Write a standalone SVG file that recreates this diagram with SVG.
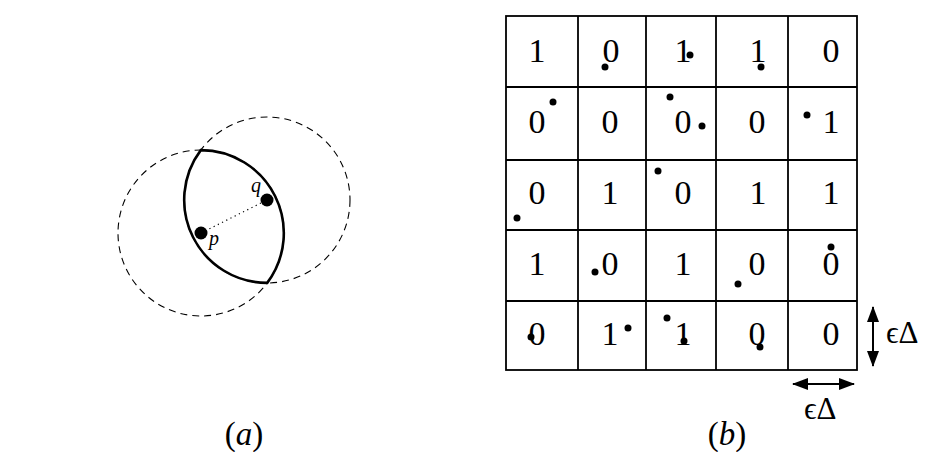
<svg xmlns="http://www.w3.org/2000/svg" width="951" height="452" viewBox="0 0 951 452">
<style>
.t{font-family:"Liberation Serif","DejaVu Serif",serif;fill:#000}
.d{font-size:34px;text-anchor:middle}
.g{stroke:#000;stroke-width:1.8;fill:none}
.dash{stroke:#000;stroke-width:1.1;fill:none;stroke-dasharray:7 5}
</style>
<defs>
<marker id="ah" markerUnits="userSpaceOnUse" markerWidth="16" markerHeight="12" refX="15" refY="6" orient="auto-start-reverse">
<path d="M0,0 L16,6 L0,12 Z" fill="#000"/>
</marker>
</defs>
<rect width="951" height="452" fill="#fff"/>
<g id="fig-a">
<circle class="dash" cx="201" cy="233" r="83"/>
<circle class="dash" cx="267" cy="200" r="83"/>
<path d="M200.8,150.1 A83,83 0 0 1 267.2,282.9 A83,83 0 0 1 200.8,150.1 Z" fill="#fff" stroke="#000" stroke-width="2.6"/>
<line x1="201" y1="233" x2="267" y2="200" stroke="#000" stroke-width="1.2" stroke-dasharray="1.2 3.5"/>
<circle cx="201" cy="233" r="6.5" fill="#000"/>
<circle cx="267" cy="200" r="6.5" fill="#000"/>
<text class="t" x="209" y="245" font-size="20" font-style="italic">p</text>
<text class="t" x="251" y="192" font-size="20" font-style="italic">q</text>
<text class="t" x="244" y="445" font-size="33" text-anchor="middle">(<tspan font-style="italic">a</tspan>)</text>
</g>
<g id="grid">
<rect class="g" x="506" y="16" width="351" height="354"/>
<line class="g" x1="578" y1="16" x2="578" y2="370"/>
<line class="g" x1="646" y1="16" x2="646" y2="370"/>
<line class="g" x1="716" y1="16" x2="716" y2="370"/>
<line class="g" x1="788" y1="16" x2="788" y2="370"/>
<line class="g" x1="506" y1="87" x2="857" y2="87"/>
<line class="g" x1="506" y1="160" x2="857" y2="160"/>
<line class="g" x1="506" y1="230" x2="857" y2="230"/>
<line class="g" x1="506" y1="301" x2="857" y2="301"/>
</g>
<g id="values">
<text class="t d" x="537" y="62">1</text>
<text class="t d" x="611" y="62">0</text>
<text class="t d" x="683" y="62">1</text>
<text class="t d" x="758" y="62">1</text>
<text class="t d" x="831" y="62">0</text>
<text class="t d" x="537" y="133">0</text>
<text class="t d" x="610" y="133">0</text>
<text class="t d" x="683" y="133">0</text>
<text class="t d" x="757" y="133">0</text>
<text class="t d" x="831" y="133">1</text>
<text class="t d" x="537" y="204">0</text>
<text class="t d" x="610" y="204">1</text>
<text class="t d" x="683" y="204">0</text>
<text class="t d" x="758" y="204">1</text>
<text class="t d" x="831" y="204">1</text>
<text class="t d" x="537" y="275">1</text>
<text class="t d" x="610" y="275">0</text>
<text class="t d" x="683" y="275">1</text>
<text class="t d" x="757" y="275">0</text>
<text class="t d" x="831" y="275">0</text>
<text class="t d" x="537" y="345">0</text>
<text class="t d" x="610" y="345">1</text>
<text class="t d" x="683" y="345">1</text>
<text class="t d" x="757" y="345">0</text>
<text class="t d" x="831" y="345">0</text>
</g>
<g id="points" fill="#000">
<circle cx="605" cy="67" r="3.5"/>
<circle cx="690" cy="55" r="3.5"/>
<circle cx="761" cy="67" r="3.5"/>
<circle cx="553" cy="102" r="3.5"/>
<circle cx="670" cy="97" r="3.5"/>
<circle cx="702" cy="126" r="3.5"/>
<circle cx="807" cy="115" r="3.5"/>
<circle cx="517" cy="218" r="3.5"/>
<circle cx="658" cy="171" r="3.5"/>
<circle cx="595" cy="272" r="3.5"/>
<circle cx="738" cy="284" r="3.5"/>
<circle cx="831" cy="247" r="3.5"/>
<circle cx="531" cy="337" r="3.5"/>
<circle cx="628" cy="328" r="3.5"/>
<circle cx="667" cy="318" r="3.5"/>
<circle cx="684" cy="341" r="3.5"/>
<circle cx="760" cy="347" r="3.5"/>
</g>
<g id="connectors">
<line x1="873" y1="307" x2="873" y2="366" stroke="#000" stroke-width="2" marker-start="url(#ah)" marker-end="url(#ah)"/>
<line x1="793" y1="384" x2="854" y2="384" stroke="#000" stroke-width="2" marker-start="url(#ah)" marker-end="url(#ah)"/>
</g>
<g id="labels">
<text class="t" x="886" y="343" font-size="31">ϵΔ</text>
<text class="t" x="804" y="419" font-size="31">ϵΔ</text>
<text class="t" x="727" y="445" font-size="33" text-anchor="middle">(<tspan font-style="italic">b</tspan>)</text>
</g>
</svg>
